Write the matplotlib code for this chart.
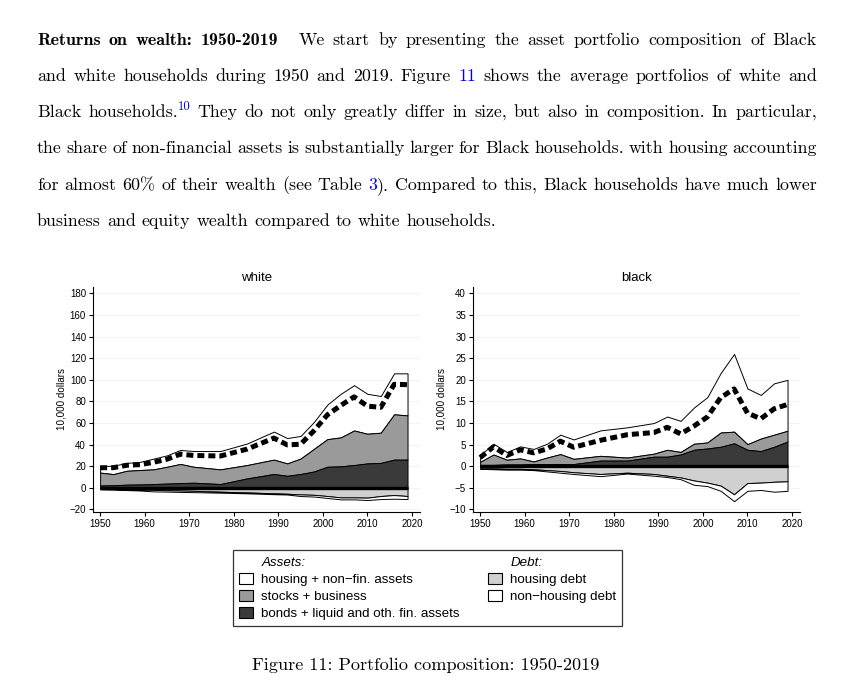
import matplotlib
matplotlib.use('Agg')
import matplotlib.pyplot as plt
from matplotlib.patches import Patch
import numpy as np

# anos das pesquisas (SCF)
anos = [1950, 1953, 1956, 1959, 1962, 1965, 1968, 1971, 1977, 1983, 1989,
        1992, 1995, 1998, 2001, 2004, 2007, 2010, 2013, 2016, 2019]

# brancos, em 10.000 dolares
branco_bonds = [2.0, 2.3, 2.8, 3.0, 3.4, 3.8, 4.3, 4.6, 3.4, 8.6, 12.7,
                11.0, 12.7, 15.0, 19.4, 19.8, 21.0, 22.5, 23.0, 26.0, 26.0]
branco_stocks = [12.0, 10.3, 12.9, 13.4, 13.6, 15.6, 17.7, 14.8, 13.6, 12.4, 13.3,
                 11.5, 14.3, 21.0, 25.6, 26.8, 32.0, 27.5, 28.0, 42.0, 41.0]
branco_housing = [6.0, 7.8, 7.3, 7.6, 10.0, 10.6, 13.0, 14.6, 17.0, 20.0, 26.0,
                  23.5, 21.0, 25.0, 32.0, 40.4, 42.0, 37.0, 34.0, 38.0, 39.0]
branco_hdebt = [1.0, 1.2, 1.5, 1.8, 2.0, 2.3, 2.6, 2.9, 3.7, 4.4, 5.2,
                5.6, 6.2, 6.6, 7.7, 9.0, 9.0, 9.2, 7.7, 6.8, 7.7]
branco_nhdebt = [0.5, 0.6, 0.7, 0.8, 1.4, 1.3, 1.3, 1.2, 0.9, 0.8, 0.8,
                 0.7, 1.5, 1.6, 1.8, 1.8, 1.8, 2.2, 2.8, 3.4, 2.8]

# negros
negro_bonds = [0.3, 0.3, 0.4, 0.4, 0.5, 0.5, 0.5, 0.5, 1.3, 1.3, 2.2,
               2.2, 2.7, 3.8, 4.1, 4.5, 5.3, 3.8, 3.5, 4.5, 5.7]
negro_stocks = [0.7, 2.4, 1.1, 1.4, 0.6, 1.5, 2.3, 1.2, 1.1, 0.7, 0.7,
                1.6, 0.6, 1.4, 1.4, 3.3, 2.7, 1.3, 2.9, 2.8, 2.5]
negro_housing = [1.6, 2.5, 1.8, 2.8, 2.9, 3.2, 4.5, 4.5, 5.9, 7.0, 7.1,
                 7.7, 7.2, 8.4, 10.5, 13.8, 18.0, 12.9, 10.1, 11.9, 11.8]
negro_hdebt = [0.5, 0.5, 0.6, 0.6, 0.7, 0.9, 1.1, 1.4, 1.8, 1.5, 1.8,
               2.2, 2.6, 3.3, 3.8, 4.5, 6.5, 3.9, 3.8, 3.6, 3.5]
negro_nhdebt = [0.1, 0.2, 0.2, 0.2, 0.2, 0.3, 0.4, 0.4, 0.5, 0.2, 0.4,
                0.3, 0.4, 1.0, 0.8, 1.2, 1.6, 1.8, 1.7, 2.3, 2.2]

rotulos = ['housing + non\u2212fin. assets', 'stocks + business',
           'bonds + liquid and oth. fin. assets', 'housing debt', 'non\u2212housing debt']

# texto do paragrafo: * negrito, @ link azul, ^ sobrescrito, + colado, ~ espaco extra
linhas = [
    "*Returns *on *wealth: *1950-2019 ~ We start by presenting the asset portfolio composition of Black",
    "and white households during 1950 and 2019. Figure @11 shows the average portfolios of white and",
    "Black households. ^10 They do not only greatly differ in size, but also in composition. In particular,",
    "the share of non-financial assets is substantially larger for Black households. with housing accounting",
    "for almost 60% of their wealth (see Table @3 +). Compared to this, Black households have much lower",
    "business and equity wealth compared to white households.",
]
legenda_fig = "Figure 11: Portfolio composition: 1950-2019"

W, H = 847, 699
fig = plt.figure(figsize=(W / 100, H / 100), dpi=100)
rend = fig.canvas.get_renderer()


def fx(px):
    return px / W


def fy(py):
    return 1 - py / H


azul = '#0000ee'
tam_texto = 12.9


def escreve_linha(txt, base, justifica=True, esq=37, dir=817):
    pecas = []
    extra = 0
    for tok in txt.split(' '):
        if tok == '~':
            extra = 12
            continue
        fam, cor, tam, dy, gap = 'cmr10', 'black', tam_texto, 0, True
        if tok.startswith('*'):
            fam, tok = 'cmb10', tok[1:]
        elif tok.startswith('@'):
            cor, tok = azul, tok[1:]
        elif tok.startswith('^'):
            cor, tok, tam, dy, gap = azul, tok[1:], 9.2, -7, False
        elif tok.startswith('+'):
            tok, gap = tok[1:], False
        t = fig.text(0, fy(base + dy), tok, fontfamily=fam, fontsize=tam, color=cor,
                     va='baseline', ha='left')
        w = t.get_window_extent(rend).width
        pecas.append([t, w, gap and len(pecas) > 0, extra])
        extra = 0
    ngap = sum(1 for p in pecas if p[2])
    soma = sum(p[1] for p in pecas) + sum(p[3] for p in pecas)
    esp = (dir - esq - soma) / ngap if justifica else 6.0
    x = esq
    for t, w, gap, ex in pecas:
        if gap:
            x += esp
        x += ex
        t.set_x(fx(x))
        x += w


bases = [45, 81, 117, 153, 190, 226]
for i, l in enumerate(linhas):
    escreve_linha(l, bases[i], justifica=(i < len(linhas) - 1))

fig.text(fx(426), fy(670), legenda_fig, fontfamily='cmr10', fontsize=13.1,
         ha='center', va='baseline')

# cores estilo Stata s2mono
escuro = '#3a3a3a'
cinza = '#9a9a9a'
claro = '#d0d0d0'
fonte_graf = 'Liberation Sans'


def painel(ax, bonds, stocks, housing, hdebt, nhdebt, titulo, ylim, yticks):
    b = np.array(bonds)
    s = b + np.array(stocks)
    tot = s + np.array(housing)
    d1 = -np.array(hdebt)
    d2 = d1 - np.array(nhdebt)
    liq = tot + d2
    kw = dict(edgecolor='black', linewidth=0.7)
    ax.fill_between(anos, s, tot, facecolor='white', **kw)
    ax.fill_between(anos, b, s, facecolor=cinza, **kw)
    ax.fill_between(anos, 0, b, facecolor=escuro, **kw)
    ax.fill_between(anos, d1, 0, facecolor=claro, **kw)
    ax.fill_between(anos, d2, d1, facecolor='white', **kw)
    ax.hlines(0, anos[0], anos[-1], color='black', linewidth=2.4, zorder=3)
    ax.plot(anos, liq, color='black', linewidth=3.6, linestyle=(0, (1.4, 0.8)),
            dash_capstyle='butt', zorder=4)
    ax.set_xlim(1948.4, 2021.8)
    ax.set_ylim(*ylim)
    ax.set_xticks(range(1950, 2021, 10))
    ax.set_yticks(yticks)
    ax.set_yticklabels([str(v).replace('-', '\u2212') for v in yticks])
    ax.grid(True, axis='y', color='#eef3f3', linewidth=0.6)
    ax.set_axisbelow(True)
    for lado in ['top', 'right']:
        ax.spines[lado].set_visible(False)
    for lado in ['left', 'bottom']:
        ax.spines[lado].set_linewidth(0.8)
    ax.tick_params(direction='out', length=3, width=0.8, labelsize=7, pad=2)
    for lab in ax.get_xticklabels() + ax.get_yticklabels():
        lab.set_fontfamily(fonte_graf)
    ax.set_title(titulo, fontfamily=fonte_graf, fontsize=9.5, pad=4)
    ax.set_ylabel('10,000 dollars', fontfamily=fonte_graf, fontsize=7.1, labelpad=2)


ax1 = fig.add_axes([fx(93), fy(512), fx(420) - fx(93), fy(287) - fy(512)])
ax2 = fig.add_axes([fx(473), fy(512), fx(800) - fx(473), fy(287) - fy(512)])
painel(ax1, branco_bonds, branco_stocks, branco_housing, branco_hdebt, branco_nhdebt,
       'white', (-22.5, 186), list(range(-20, 181, 20)))
painel(ax2, negro_bonds, negro_stocks, negro_housing, negro_hdebt, negro_nhdebt,
       'black', (-10.6, 41.5), list(range(-10, 41, 5)))

# legenda
vazio = Patch(facecolor='none', edgecolor='none')
cores = ['white', cinza, escuro, claro, 'white']
hs = [Patch(facecolor=c, edgecolor='black', linewidth=0.8) for c in cores]
handles = [vazio, hs[0], hs[1], hs[2], vazio, hs[3], hs[4], vazio]
labels = ['Assets:', rotulos[0], rotulos[1], rotulos[2], 'Debt:', rotulos[3], rotulos[4], '']
leg = fig.legend(handles, labels, ncol=2, loc='center',
                 bbox_to_anchor=(fx(427.5), fy(588)),
                 prop={'family': fonte_graf, 'size': 9.6},
                 frameon=True, fancybox=False, edgecolor='black',
                 handlelength=1.1, handleheight=0.9, handletextpad=0.6,
                 labelspacing=0.3, columnspacing=2.1, borderpad=0.4, borderaxespad=0)
leg.get_frame().set_linewidth(0.9)
leg.get_texts()[0].set_style('italic')
leg.get_texts()[4].set_style('italic')

fig.savefig('out.png', dpi=100)
